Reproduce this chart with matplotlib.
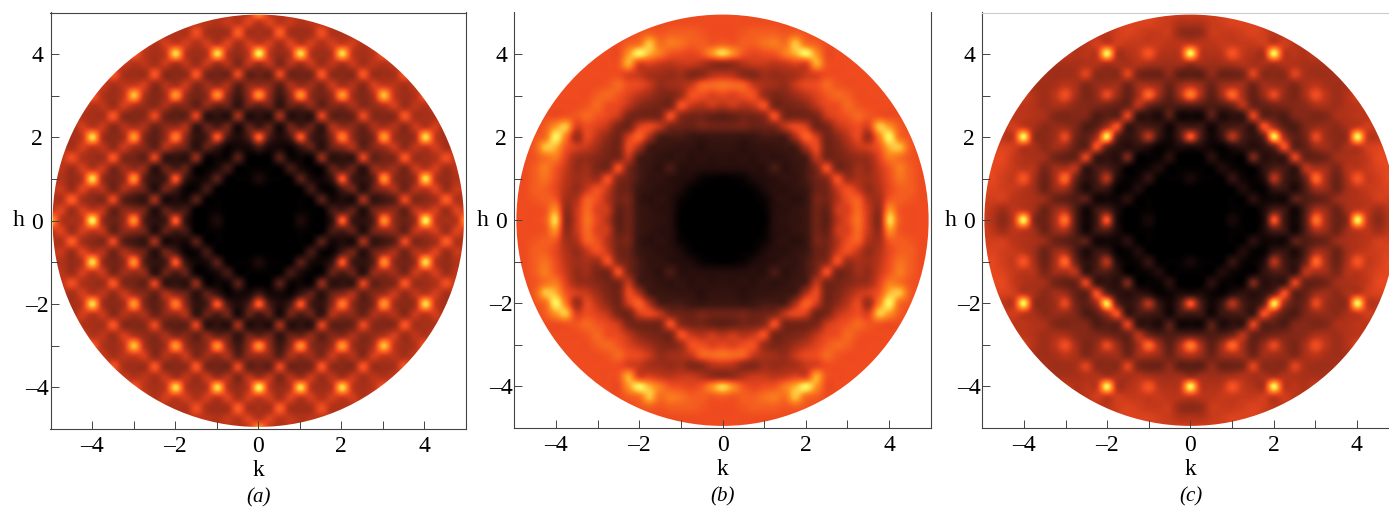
import numpy as np
import matplotlib
matplotlib.use("Agg")
import matplotlib.pyplot as plt
from matplotlib.colors import LinearSegmentedColormap
from matplotlib.patches import Circle

plt.rcParams["font.family"] = ["Liberation Serif", "DejaVu Serif"]

# intensity, one quadrant per panel
# rows are h = 0, 0.25 ... 5, columns are k = 0, 0.25 ... 5
quad_a = [
    [0, 0, 0, 0, 14, 3, 0, 22, 74, 30, 22, 36, 84, 52, 42, 54, 100, 62, 56, 60, 90],
    [0, 0, 0, 0, 4, 2, 0, 30, 32, 38, 18, 42, 50, 50, 40, 60, 62, 64, 54, 66, 62],
    [0, 0, 0, 0, 2, 3, 36, 12, 16, 14, 54, 26, 30, 38, 68, 48, 50, 56, 74, 58, 58],
    [0, 0, 0, 0, 3, 30, 8, 6, 32, 42, 20, 40, 50, 56, 44, 58, 60, 66, 54, 62, 60],
    [14, 3, 2, 3, 36, 14, 8, 26, 72, 32, 24, 38, 84, 52, 44, 54, 96, 60, 52, 58, 58],
    [3, 2, 3, 30, 14, 4, 6, 38, 34, 40, 22, 50, 52, 54, 46, 62, 60, 64, 54, 60, 58],
    [0, 3, 36, 8, 8, 6, 50, 22, 24, 26, 66, 40, 44, 48, 72, 54, 54, 58, 70, 60, 58],
    [30, 12, 12, 6, 26, 38, 22, 40, 48, 56, 40, 48, 54, 62, 52, 60, 60, 64, 56, 60, 58],
    [74, 34, 16, 32, 72, 34, 24, 48, 80, 52, 38, 48, 86, 56, 50, 56, 96, 62, 56, 58, 58],
    [30, 38, 14, 42, 34, 40, 26, 56, 52, 50, 42, 56, 56, 58, 50, 62, 60, 64, 56, 60, 58],
    [22, 18, 54, 20, 24, 22, 66, 40, 38, 42, 68, 50, 48, 50, 72, 56, 56, 58, 70, 60, 58],
    [38, 42, 26, 40, 40, 50, 40, 48, 48, 56, 50, 52, 58, 64, 54, 60, 58, 64, 58, 60, 58],
    [84, 52, 30, 50, 84, 52, 44, 54, 86, 56, 48, 58, 92, 62, 54, 58, 72, 60, 58, 58, 58],
    [52, 50, 38, 56, 52, 54, 48, 62, 56, 58, 50, 64, 62, 60, 56, 62, 58, 60, 58, 58, 58],
    [42, 40, 68, 44, 44, 46, 72, 52, 50, 50, 72, 54, 54, 56, 72, 58, 58, 60, 60, 58, 58],
    [54, 60, 48, 58, 54, 62, 54, 60, 56, 62, 56, 60, 58, 62, 58, 60, 58, 58, 58, 58, 58],
    [100, 62, 52, 60, 96, 60, 54, 60, 96, 62, 56, 60, 72, 60, 58, 58, 66, 58, 58, 58, 58],
    [62, 64, 56, 66, 60, 64, 58, 64, 62, 64, 58, 64, 60, 60, 58, 58, 58, 58, 58, 58, 58],
    [56, 56, 74, 56, 54, 56, 70, 58, 58, 58, 70, 60, 58, 60, 60, 58, 58, 58, 58, 58, 58],
    [60, 66, 60, 62, 58, 60, 60, 60, 58, 60, 60, 60, 58, 58, 58, 58, 58, 58, 58, 58, 58],
    [90, 62, 58, 60, 58, 58, 58, 58, 58, 58, 58, 58, 58, 58, 58, 58, 58, 58, 58, 58, 58],
]
quad_b = [
    [0, 0, 0, 0, 1, 18, 22, 24, 28, 42, 38, 58, 68, 78, 62, 50, 95, 74, 70, 70, 70],
    [0, 0, 0, 0, 3, 18, 20, 24, 28, 42, 40, 62, 66, 76, 62, 52, 84, 72, 70, 70, 70],
    [0, 0, 0, 1, 6, 18, 22, 20, 26, 44, 44, 58, 70, 74, 58, 55, 72, 74, 72, 70, 70],
    [0, 0, 1, 4, 14, 20, 20, 24, 28, 40, 44, 62, 70, 62, 52, 58, 68, 74, 74, 70, 70],
    [1, 3, 6, 14, 18, 20, 24, 24, 32, 42, 50, 70, 54, 56, 54, 60, 70, 78, 74, 70, 70],
    [18, 18, 18, 20, 20, 32, 22, 26, 32, 46, 70, 46, 46, 54, 52, 62, 72, 80, 74, 70, 70],
    [22, 20, 22, 20, 24, 22, 24, 28, 34, 60, 46, 44, 48, 52, 54, 66, 80, 78, 72, 70, 70],
    [24, 24, 20, 24, 24, 26, 28, 32, 56, 68, 44, 46, 54, 62, 64, 72, 90, 92, 74, 70, 70],
    [28, 28, 26, 28, 32, 32, 34, 56, 74, 64, 44, 50, 60, 68, 54, 80, 100, 78, 72, 70, 70],
    [42, 42, 44, 40, 42, 46, 60, 68, 64, 44, 46, 60, 66, 70, 66, 92, 86, 74, 70, 70, 70],
    [38, 40, 44, 44, 50, 70, 46, 44, 44, 46, 62, 68, 72, 76, 72, 72, 70, 70, 70, 70, 70],
    [58, 62, 58, 62, 70, 46, 44, 46, 50, 60, 68, 70, 76, 72, 70, 70, 70, 70, 70, 70, 70],
    [68, 66, 70, 70, 54, 46, 48, 54, 60, 66, 72, 76, 74, 70, 70, 70, 70, 70, 70, 70, 70],
    [78, 76, 74, 62, 56, 54, 52, 62, 68, 70, 76, 72, 70, 70, 70, 70, 70, 70, 70, 70, 70],
    [60, 58, 50, 48, 54, 52, 54, 56, 62, 66, 70, 70, 70, 70, 70, 70, 70, 70, 70, 70, 70],
    [50, 52, 58, 62, 62, 60, 62, 66, 66, 88, 72, 70, 70, 70, 70, 70, 70, 70, 70, 70, 70],
    [95, 84, 72, 68, 70, 72, 80, 90, 100, 86, 70, 70, 70, 70, 70, 70, 70, 70, 70, 70, 70],
    [74, 72, 74, 74, 78, 80, 78, 92, 78, 74, 70, 70, 70, 70, 70, 70, 70, 70, 70, 70, 70],
    [70, 70, 72, 74, 74, 74, 72, 74, 72, 70, 70, 70, 70, 70, 70, 70, 70, 70, 70, 70, 70],
    [70, 70, 70, 70, 70, 70, 70, 70, 70, 70, 70, 70, 70, 70, 70, 70, 70, 70, 70, 70, 70],
    [70, 70, 70, 70, 70, 70, 70, 70, 70, 70, 70, 70, 70, 70, 70, 70, 70, 70, 70, 70, 70],
]
quad_c = [
    [0, 0, 0, 0, 12, 2, 0, 14, 72, 30, 10, 36, 78, 56, 42, 50, 100, 62, 50, 58, 64],
    [0, 0, 0, 0, 3, 2, 0, 14, 34, 28, 10, 34, 56, 52, 42, 54, 62, 60, 54, 60, 64],
    [0, 0, 0, 0, 2, 2, 20, 8, 10, 10, 36, 34, 38, 42, 52, 56, 58, 60, 64, 64, 64],
    [0, 0, 0, 0, 2, 16, 5, 4, 26, 26, 16, 34, 54, 52, 42, 54, 60, 62, 64, 66, 66],
    [12, 3, 2, 2, 24, 8, 4, 16, 58, 32, 22, 42, 76, 56, 42, 56, 72, 62, 64, 68, 68],
    [2, 2, 2, 16, 8, 3, 4, 22, 34, 32, 26, 58, 56, 54, 46, 58, 60, 62, 66, 68, 68],
    [0, 0, 20, 5, 4, 4, 44, 20, 24, 28, 66, 42, 40, 44, 54, 56, 58, 62, 68, 68, 68],
    [14, 14, 8, 4, 16, 22, 20, 24, 40, 70, 40, 40, 52, 54, 50, 56, 60, 64, 66, 66, 66],
    [72, 34, 10, 26, 58, 34, 24, 40, 98, 56, 38, 44, 68, 54, 50, 54, 100, 62, 60, 62, 62],
    [30, 28, 10, 26, 32, 32, 28, 70, 56, 38, 34, 46, 52, 52, 50, 56, 62, 64, 62, 62, 62],
    [10, 10, 36, 16, 22, 26, 66, 40, 38, 34, 46, 48, 46, 48, 56, 58, 60, 60, 62, 62, 62],
    [36, 34, 34, 34, 42, 58, 42, 40, 44, 46, 48, 50, 56, 56, 54, 58, 60, 62, 60, 60, 60],
    [80, 56, 38, 54, 76, 56, 40, 52, 68, 52, 46, 56, 70, 60, 54, 58, 64, 60, 58, 58, 58],
    [58, 52, 42, 52, 56, 54, 44, 54, 54, 52, 48, 56, 60, 56, 54, 56, 58, 58, 58, 58, 58],
    [38, 38, 50, 42, 42, 46, 66, 50, 50, 50, 66, 56, 54, 54, 56, 56, 56, 56, 56, 56, 56],
    [52, 54, 54, 54, 56, 58, 56, 56, 56, 58, 58, 56, 56, 56, 56, 56, 56, 56, 56, 56, 56],
    [100, 62, 58, 60, 72, 62, 58, 58, 100, 62, 60, 58, 62, 58, 56, 56, 56, 56, 56, 56, 56],
    [62, 60, 60, 62, 62, 62, 62, 64, 62, 64, 60, 58, 58, 56, 56, 56, 56, 56, 56, 56, 56],
    [50, 52, 62, 62, 62, 64, 66, 64, 60, 60, 60, 58, 56, 56, 56, 56, 56, 56, 56, 56, 56],
    [58, 58, 62, 64, 66, 66, 66, 64, 60, 60, 60, 58, 56, 56, 56, 56, 56, 56, 56, 56, 56],
    [64, 64, 64, 64, 66, 66, 66, 64, 60, 60, 60, 58, 56, 56, 56, 56, 56, 56, 56, 56, 56],
]

major_ticks = [-4, -2, 0, 2, 4]
minor_ticks = [-3, -1, 1, 3]
major_labels = ["\u20134", "\u20132", "0", "2", "4"]
panel_labels = ["(a)", "(b)", "(c)"]

W, H = 1389, 507

cmap = LinearSegmentedColormap.from_list("diffuse", [
    (0.00, "#000000"),
    (0.15, "#1e0b0a"),
    (0.30, "#401812"),
    (0.50, "#8c2a18"),
    (0.60, "#bb3519"),
    (0.70, "#f04b20"),
    (0.85, "#ff8f1e"),
    (1.00, "#fff25a"),
])


def unfold(quad):
    # the panels are mirror symmetric, so build the full map from one quadrant
    q = np.array(quad, dtype=float)
    top = np.hstack([q[:, :0:-1], q])
    return np.vstack([top[:0:-1], top])


def draw_panel(left, right, top, bottom, quad, label):
    ax = fig.add_axes([left / W, 1 - bottom / H, (right - left) / W, (bottom - top) / H])
    im = ax.imshow(unfold(quad), origin="lower", extent=(-5.125, 5.125, -5.125, 5.125),
                   cmap=cmap, vmin=0, vmax=100, interpolation="catrom")
    im.set_clip_path(Circle((0, 0), 4.95, transform=ax.transData))
    ax.set_xlim(-5, 5)
    ax.set_ylim(-5, 5)
    ax.set_aspect("auto")

    ax.set_xticks(major_ticks, major_labels)
    ax.set_yticks(major_ticks, major_labels)
    ax.set_xticks(minor_ticks, minor=True)
    ax.set_yticks(minor_ticks, minor=True)
    ax.tick_params(which="both", direction="in", length=5.8, width=0.7, color="#444444")
    ax.tick_params(axis="x", labelsize=17, pad=5)
    ax.tick_params(axis="y", labelsize=17, pad=9.5)
    for t in ax.get_yticklabels():
        t.set_ha("center")
    for s in ax.spines.values():
        s.set_color("#444444")
        s.set_linewidth(0.8)

    ax.set_xlabel("k", fontsize=17, labelpad=2)
    ax.text(0, -0.166, label, transform=ax.get_xaxis_transform(), ha="center", va="center",
            fontsize=15, fontstyle="italic")
    ax.text(-5.62, 0, "h", ha="right", va="center", fontsize=17, clip_on=False)
    return ax


fig = plt.figure(figsize=(W / 100, H / 100), dpi=100)

ax_a = draw_panel(50.5, 466, 12.5, 429, quad_a, panel_labels[0])

ax_b = draw_panel(514.3, 930.7, 12.5, 428, quad_b, panel_labels[1])
ax_b.spines["top"].set_visible(False)

ax_c = draw_panel(982.3, 1398.5, 12.5, 428, quad_c, panel_labels[2])
ax_c.spines["top"].set_color("#cccccc")

fig.savefig("out.png", dpi=100)
